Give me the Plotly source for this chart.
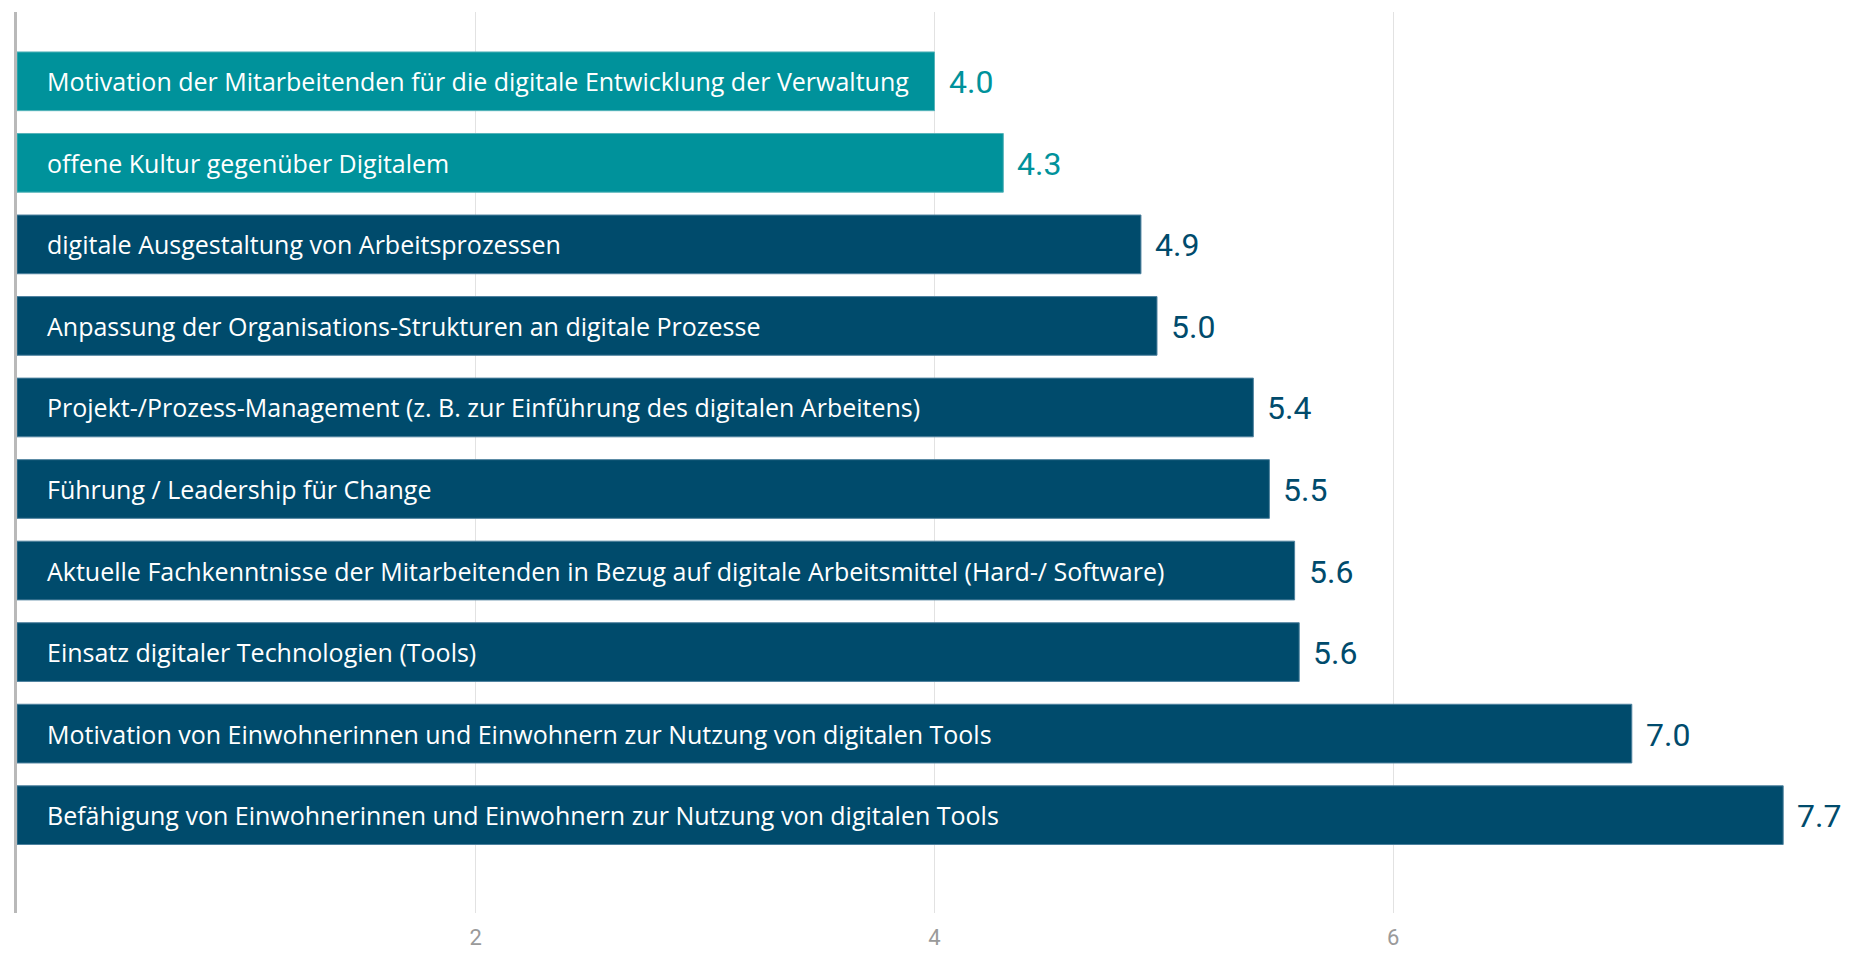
import plotly.graph_objects as go

categories = [
    "Motivation der Mitarbeitenden für die digitale Entwicklung der Verwaltung",
    "offene Kultur gegenüber Digitalem",
    "digitale Ausgestaltung von Arbeitsprozessen",
    "Anpassung der Organisations-Strukturen an digitale Prozesse",
    "Projekt-/Prozess-Management (z. B. zur Einführung des digitalen Arbeitens)",
    "Führung / Leadership für Change",
    "Aktuelle Fachkenntnisse der Mitarbeitenden in Bezug auf digitale Arbeitsmittel (Hard-/ Software)",
    "Einsatz digitaler Technologien (Tools)",
    "Motivation von Einwohnerinnen und Einwohnern zur Nutzung von digitalen Tools",
    "Befähigung von Einwohnerinnen und Einwohnern zur Nutzung von digitalen Tools",
]
values = [4.0, 4.3, 4.9, 4.97, 5.39, 5.46, 5.57, 5.59, 7.04, 7.7]
highlight = [True, True, False, False, False, False, False, False, False, False]
tick_values = [2, 4, 6]
tick_labels = ["2", "4", "6"]

TEAL = "#00929b"
DARK = "#004b6c"
bar_colors = [TEAL if h else DARK for h in highlight]
edge_colors = ["#55b3b9" if h else "#4d819e" for h in highlight]

fig = go.Figure()
fig.add_trace(go.Bar(
    x=values,
    y=categories,
    orientation="h",
    marker=dict(color=bar_colors, line=dict(color=edge_colors, width=1)),
    hoverinfo="x+y",
))

for cat, v, h in zip(categories, values, highlight):
    fig.add_annotation(
        x=0, y=cat, xref="x", yref="y", text=cat, showarrow=False,
        xanchor="left", yanchor="middle", xshift=28,
        font=dict(family="Open Sans", size=25, color="white"),
    )
    fig.add_annotation(
        x=v, y=cat, xref="x", yref="y", text=f"{v:.1f}", showarrow=False,
        xanchor="left", yanchor="middle", xshift=12, yshift=-1,
        font=dict(family="Roboto", size=32, color=TEAL if h else DARK),
    )

fig.update_layout(
    width=1847, height=944,
    margin=dict(l=9, r=3, t=4, b=39, autoexpand=False),
    plot_bgcolor="white", paper_bgcolor="white",
    bargap=0.28,
    showlegend=False,
    xaxis=dict(
        range=[0, 8], tickvals=tick_values, ticktext=tick_labels,
        showgrid=True, gridcolor="#e2e2e2", gridwidth=1,
        zeroline=False, showline=False, automargin=False,
        ticks="outside", ticklen=5, tickcolor="rgba(0,0,0,0)",
        tickfont=dict(family="Roboto", size=22, color="#9a9a9a"),
    ),
    yaxis=dict(
        range=[10.2, -0.85], showticklabels=False, showgrid=False,
        automargin=False,
        zeroline=False, showline=True, linecolor="#b9b9b9", linewidth=3,
    ),
)

fig.write_html("out.html")
